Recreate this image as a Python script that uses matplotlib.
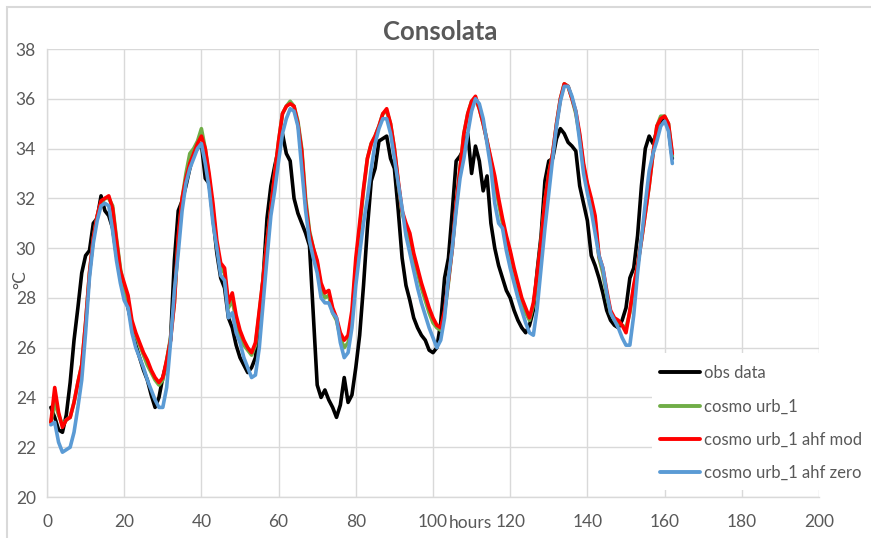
import numpy as np
import matplotlib
matplotlib.use("Agg")
import matplotlib.pyplot as plt
from matplotlib.patches import Rectangle

# hourly values
hours = np.arange(1, 163)

obs_data = [
    23.6, 23.2, 22.7, 22.6, 23.3, 24.6, 26.3, 27.6, 29.0, 29.7,
    29.9, 31.0, 31.2, 32.1, 31.5, 31.3, 30.8, 29.7, 29.0, 28.4,
    27.6, 26.9, 26.1, 25.6, 25.1, 24.7, 24.1, 23.6, 24.0, 24.8,
    25.4, 26.3, 29.5, 31.5, 31.9, 32.5, 33.2, 33.8, 34.0, 34.2,
    32.8, 32.6, 31.2, 29.8, 28.8, 28.4, 27.2, 26.8, 26.1, 25.6,
    25.3, 25.0, 25.2, 25.6, 26.9, 28.8, 31.2, 32.5, 33.3, 34.0,
    34.6, 33.8, 33.5, 32.0, 31.4, 31.0, 30.6, 30.1, 27.3, 24.5,
    24.0, 24.3, 23.9, 23.6, 23.2, 23.7, 24.8, 23.8, 24.1, 25.2,
    26.5, 28.5, 30.8, 32.7, 33.2, 34.3, 34.4, 34.5, 33.6, 33.2,
    31.5, 29.6, 28.5, 27.9, 27.2, 26.8, 26.5, 26.3, 25.9, 25.8,
    26.0, 27.0, 28.8, 29.6, 31.5, 33.5, 33.7, 34.0, 34.6, 33.0,
    34.1, 33.5, 32.3, 32.9, 31.0, 30.0, 29.3, 28.8, 28.3, 28.0,
    27.5, 27.1, 26.8, 26.6, 26.9, 27.5, 29.1, 30.5, 32.7, 33.5,
    33.6, 34.4, 34.8, 34.6, 34.25, 34.1, 33.9, 32.5, 31.8, 31.1,
    29.7, 29.3, 28.8, 28.2, 27.5, 27.1, 26.9, 26.8, 27.1, 27.6,
    28.8, 29.2, 30.5, 32.5, 34.0, 34.5, 34.2, 34.7, 35.1, 35.2,
    34.8, 33.6,
]

cosmo_urb1 = [
    23.0, 23.8, 23.3, 22.9, 23.1, 23.2, 23.8, 24.6, 25.3, 27.0,
    29.0, 30.4, 31.3, 31.8, 32.0, 32.0, 31.7, 30.4, 29.2, 28.4,
    27.7, 27.0, 26.5, 26.1, 25.7, 25.3, 25.0, 24.7, 24.5, 24.7,
    25.5, 26.4, 27.8, 30.3, 32.0, 33.0, 33.8, 34.0, 34.3, 34.8,
    34.0, 32.8, 31.5, 30.1, 29.2, 29.0, 27.6, 27.9, 27.1, 26.5,
    26.1, 25.9, 25.7, 26.1, 27.4, 28.8, 30.3, 31.6, 33.0, 34.3,
    35.4, 35.7, 35.9, 35.7, 35.1, 34.0, 32.0, 30.7, 30.0, 29.4,
    28.4, 28.0, 28.1, 27.4, 27.1, 26.4, 26.0, 26.2, 27.2, 29.3,
    30.8, 32.3, 33.6, 34.2, 34.5, 34.9, 35.4, 35.5, 35.0, 34.0,
    32.6, 31.4, 30.9, 30.4, 29.6, 29.0, 28.4, 27.9, 27.4, 27.0,
    26.8, 26.7, 27.4, 28.6, 30.0, 31.7, 33.2, 34.6, 35.4, 35.9,
    36.0, 35.6, 35.0, 34.3, 33.5, 32.7, 31.8, 31.0, 30.4, 29.8,
    29.0, 28.4, 27.9, 27.4, 27.1, 27.7, 28.9, 30.3, 31.9, 33.0,
    33.8, 35.0, 36.0, 36.6, 36.5, 36.0, 35.4, 34.5, 33.3, 32.5,
    31.8, 31.1, 29.6, 29.0, 28.1, 27.4, 27.1, 27.0, 26.9, 26.8,
    27.4, 28.4, 29.3, 30.3, 31.4, 32.5, 33.8, 34.9, 35.3, 35.3,
    35.0, 33.7,
]

cosmo_ahf_mod = [
    23.0, 24.4, 23.4, 22.8, 23.1, 23.2, 23.8, 24.6, 25.3, 27.0,
    29.0, 30.4, 31.3, 31.9, 32.0, 32.1, 31.6, 30.3, 29.1, 28.6,
    28.1, 27.1, 26.6, 26.2, 25.8, 25.5, 25.1, 24.8, 24.6, 24.8,
    25.5, 26.3, 27.8, 30.5, 32.0, 32.8, 33.4, 33.8, 34.2, 34.5,
    34.0, 33.0, 31.8, 30.3, 29.4, 29.2, 27.8, 28.2, 27.3, 26.7,
    26.3, 26.0, 25.8, 26.2, 27.5, 28.8, 30.3, 31.6, 33.0, 34.3,
    35.4, 35.7, 35.8, 35.7, 35.0, 33.9, 31.8, 30.6, 30.0, 29.5,
    28.6, 28.2, 28.3, 27.6, 27.2, 26.6, 26.3, 26.5, 27.5, 29.6,
    31.0, 32.4, 33.6, 34.2, 34.5, 34.9, 35.4, 35.6, 35.0, 34.0,
    32.7, 31.5, 31.0, 30.6, 29.8, 29.2, 28.6, 28.1, 27.6, 27.2,
    26.9, 26.8, 27.5, 28.7, 30.0, 31.8, 33.2, 34.6, 35.4, 35.9,
    36.1, 35.6, 35.0, 34.3, 33.6, 32.9, 32.0, 31.2, 30.5, 29.9,
    29.2, 28.6, 28.0, 27.6, 27.2, 27.8, 29.0, 30.3, 31.9, 33.0,
    33.8, 35.0, 36.0, 36.6, 36.5, 36.0, 35.5, 34.6, 33.4, 32.6,
    32.0, 31.3, 29.7, 29.2, 28.3, 27.5, 27.2, 27.1, 26.9, 26.6,
    27.5, 28.5, 29.3, 30.3, 31.4, 32.5, 33.8, 34.9, 35.2, 35.3,
    35.0, 33.8,
]

cosmo_ahf_zero = [
    22.9, 23.0, 22.2, 21.8, 21.9, 22.0, 22.6, 23.6, 24.7, 26.6,
    28.8, 30.2, 31.1, 31.7, 31.8, 31.7, 30.7, 29.5, 28.6, 27.9,
    27.6, 26.6, 26.0, 25.6, 25.2, 24.7, 24.3, 23.9, 23.6, 23.6,
    24.4, 26.2, 28.3, 29.8, 31.5, 32.6, 33.2, 33.6, 34.0, 34.2,
    33.4, 32.4, 31.0, 30.0, 28.9, 28.7, 27.2, 27.4, 26.6, 26.2,
    25.6, 25.2, 24.8, 24.9, 26.0, 27.8, 29.6, 31.3, 32.3, 33.5,
    34.6, 35.2, 35.6, 35.5, 34.9, 33.2, 31.5, 30.3, 29.6, 29.0,
    28.0, 27.8, 27.8, 27.4, 27.2, 26.2, 25.6, 25.8, 26.8, 28.5,
    29.8, 31.0, 32.0, 33.2, 34.2, 34.8, 35.2, 35.2, 34.6, 33.6,
    32.6, 31.6, 30.5, 29.8, 29.1, 28.4, 27.8, 27.3, 26.8, 26.4,
    26.0, 26.3, 27.2, 28.8, 30.0, 31.5, 32.8, 33.6, 34.6, 35.5,
    36.0, 35.8, 35.2, 34.2, 33.2, 31.8, 31.0, 30.8, 29.9, 29.2,
    28.6, 28.0, 27.5, 27.0, 26.6, 26.5, 27.6, 29.2, 30.8, 32.2,
    33.6, 34.9, 35.9, 36.5, 36.5, 36.1, 35.5, 34.3, 33.0, 32.2,
    31.5, 30.6, 29.7, 29.2, 28.2, 27.4, 27.1, 26.8, 26.4, 26.1,
    26.1, 27.3, 29.0, 30.4, 31.8, 33.1, 33.8, 34.3, 34.9, 35.1,
    34.7, 33.4,
]

labels = ["obs data", "cosmo urb_1", "cosmo urb_1 ahf mod", "cosmo urb_1 ahf zero"]
colors = ["#000000", "#70AD47", "#FF0000", "#5B9BD5"]

plt.rcParams['font.family'] = ['Lato', 'DejaVu Sans']
grey_txt = "#595959"
grid_col = "#D9D9D9"

fig = plt.figure(figsize=(8.71, 5.38), dpi=100)
ax = fig.add_axes([47 / 871, 41 / 538, 772 / 871, 448 / 538])

series = [obs_data, cosmo_urb1, cosmo_ahf_mod, cosmo_ahf_zero]
for vals, lab, col in zip(series, labels, colors):
    ax.plot(hours, vals, color=col, lw=2.6, label=lab,
            solid_joinstyle='round', solid_capstyle='round')

ax.set_xlim(0, 200)
ax.set_ylim(20, 38)
ax.set_xticks(np.arange(0, 201, 20))
ax.set_yticks(np.arange(20, 39, 2))
ax.grid(True, color=grid_col, lw=1.0)
ax.set_axisbelow(True)
for s in ['top', 'right']:
    ax.spines[s].set_visible(False)
for s in ['left', 'bottom']:
    ax.spines[s].set_color(grid_col)
    ax.spines[s].set_linewidth(1.0)
ax.tick_params(length=0, labelsize=12.5, colors=grey_txt)
ax.tick_params(axis='x', pad=12)
ax.tick_params(axis='y', pad=8)

# white box behind the legend (Excel style, covers the grid)
ax.add_patch(Rectangle((0.784, 0.016), 0.3, 0.305, transform=ax.transAxes,
                       facecolor='white', edgecolor='none', clip_on=False, zorder=5))
leg = ax.legend(loc='upper left', bbox_to_anchor=(0.794, 0.294), frameon=False,
                fontsize=12, handlelength=2.4, handletextpad=0.25,
                labelspacing=1.03, borderaxespad=0, borderpad=0)
leg.set_zorder(6)
for t in leg.get_texts():
    t.set_color(grey_txt)
for h in leg.get_lines():
    h.set_linewidth(2.8)

fig.text(0.505, 1 - 32 / 538, "Consolata", ha='center', va='center',
         fontsize=18.5, fontweight='bold', color=grey_txt)
fig.text(20 / 871, 1 - 280 / 538, "°C", rotation=90, ha='center', va='center',
         fontsize=12.5, color=grey_txt)
fig.text(470 / 871, 1 - 523 / 538, "hours", ha='center', va='center',
         fontsize=12.5, color=grey_txt)

# light outer frame of the chart area
fig.patches.append(Rectangle((7 / 871, -0.5), 1.0, 1.5 - 7 / 538, transform=fig.transFigure,
                             fill=False, edgecolor=grid_col, lw=1.5))

fig.savefig("out.png", dpi=100)
